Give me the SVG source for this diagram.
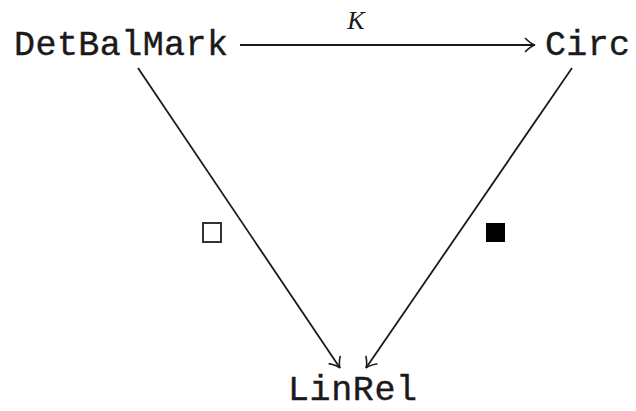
<svg xmlns="http://www.w3.org/2000/svg" width="636" height="411" viewBox="0 0 636 411">
<style>
.node{font-family:"Liberation Mono","DejaVu Sans Mono",monospace;font-size:35px;fill:#1a1a1a;stroke:#1a1a1a;stroke-width:0.4}
.edge{stroke:#1a1a1a;stroke-width:1.8;fill:none}
.lbl{font-family:"Liberation Serif","DejaVu Serif",serif;font-style:italic;font-size:26px;fill:#1a1a1a}
</style>
<defs>
<marker id="arr" viewBox="-12 -8 14 16" markerWidth="14" markerHeight="16" refX="0" refY="0" orient="auto" markerUnits="userSpaceOnUse">
<path d="M-10,-7 Q-4,-1 0,0 Q-4,1 -10,7" fill="none" stroke="#1a1a1a" stroke-width="1.6"/>
</marker>
</defs>
<rect width="636" height="411" fill="#fff"/>
<g id="connectors">
<line class="edge" x1="240" y1="45" x2="535" y2="45" marker-end="url(#arr)"/>
<line class="edge" x1="138" y1="68" x2="340" y2="368" marker-end="url(#arr)"/>
<line class="edge" x1="572" y1="68" x2="366" y2="368" marker-end="url(#arr)"/>
<text class="lbl" x="356" y="29" text-anchor="middle">K</text>
<rect x="203" y="223" width="18" height="19" fill="#fff" stroke="#333" stroke-width="2"/>
<rect x="486" y="223" width="19" height="19" fill="#000"/>
</g>
<g id="DetBalMark"><text class="node" x="14" y="55" textLength="214">DetBalMark</text></g>
<g id="Circ"><text class="node" x="545" y="55" textLength="85">Circ</text></g>
<g id="LinRel"><text class="node" x="288" y="400" textLength="129">LinRel</text></g>
</svg>
